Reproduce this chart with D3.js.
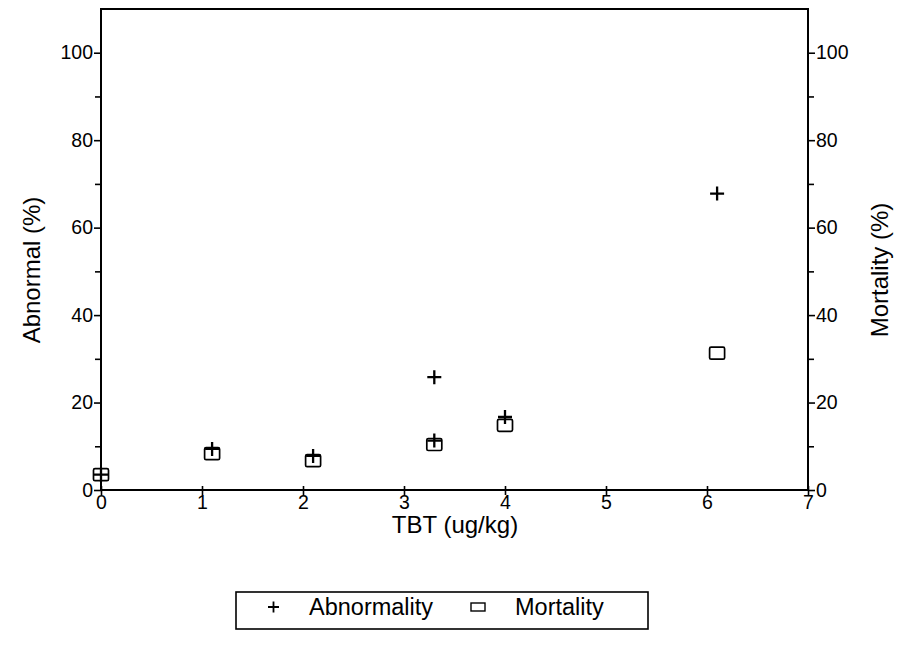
<!DOCTYPE html>
<html><head><meta charset="utf-8">
<script src="https://cdn.jsdelivr.net/npm/d3@7"></script>
<style>body{margin:0;background:#fff}svg{display:block}text{font-family:"Liberation Sans",Arial,sans-serif;fill:#000}</style>
</head><body><svg id="c" width="898" height="665"></svg>
<script>
const abnX = [0, 1.1, 2.1, 3.3, 3.3, 4.0, 6.1];
const abnY = [3.5, 9.4, 7.8, 25.8, 11.3, 16.7, 67.8];
const morX = [0, 1.1, 2.1, 3.3, 4.0, 6.1];
const morY = [3.5, 8.3, 6.7, 10.4, 14.8, 31.3];
const xTicks = [0,1,2,3,4,5,6,7];
const yMajor = [0,20,40,60,80,100];
const yMinor = [10,30,50,70,90];
const legendLabels = ["Abnormality","Mortality"];

const svg = d3.select("#c");
const x = d3.scaleLinear().domain([0,7]).range([101,808]);
const y = d3.scaleLinear().domain([0,110]).range([490,9]);

const g = svg.append("g");
g.append("rect").attr("x",x(0)).attr("y",y(110)).attr("width",x(7)-x(0)).attr("height",y(0)-y(110))
 .attr("fill","none").attr("stroke","#000").attr("stroke-width",2);

function styleAxis(sel){
  sel.select(".domain").remove();
  sel.selectAll("line").attr("stroke","#000").attr("stroke-width",1.6);
  sel.selectAll("text").style("font-size","19.5px");
}
g.append("g").attr("transform",`translate(${x(0)},0)`)
 .call(d3.axisLeft(y).tickValues(yMajor).tickSize(7).tickPadding(1).tickFormat(d3.format("d"))).call(styleAxis);
g.append("g").attr("transform",`translate(${x(0)},0)`)
 .call(d3.axisLeft(y).tickValues(yMinor).tickSize(6).tickFormat("")).call(styleAxis);
g.append("g").attr("transform",`translate(${x(7)},0)`)
 .call(d3.axisRight(y).tickValues(yMajor).tickSize(7).tickPadding(1).tickFormat(d3.format("d"))).call(styleAxis);
g.append("g").attr("transform",`translate(${x(7)},0)`)
 .call(d3.axisRight(y).tickValues(yMinor).tickSize(6).tickFormat("")).call(styleAxis);
const xa = g.append("g").attr("transform",`translate(0,${y(0)})`)
 .call(d3.axisBottom(x).tickValues(xTicks).tickSize(5).tickPadding(0).tickFormat(d3.format("d"))).call(styleAxis);
xa.selectAll(".tick line").attr("y1",-4);

svg.append("text").attr("x",455).attr("y",533).attr("text-anchor","middle").style("font-size","24px").text("TBT (ug/kg)");
svg.append("text").attr("transform","translate(40,270) rotate(-90)").attr("text-anchor","middle").style("font-size","24px").text("Abnormal (%)");
svg.append("text").attr("transform","translate(888,270) rotate(-90)").attr("text-anchor","middle").style("font-size","24px").text("Mortality (%)");

const mor = morX.map((v,i)=>({x:v,y:morY[i]}));
const abn = abnX.map((v,i)=>({x:v,y:abnY[i]}));
g.selectAll(".sq").data(mor).join("rect").attr("class","sq")
 .attr("x",d=>x(d.x)-7.5).attr("y",d=>y(d.y)-6).attr("width",15).attr("height",12).attr("rx",1.5)
 .attr("fill","none").attr("stroke","#000").attr("stroke-width",1.7);
g.selectAll(".pl").data(abn).join("path").attr("class","pl")
 .attr("d",d=>`M${x(d.x)-7},${y(d.y)}h14M${x(d.x)},${y(d.y)-7}v14`)
 .attr("stroke","#000").attr("stroke-width",2.3).attr("fill","none");

const lg = svg.append("g");
lg.append("rect").attr("x",236).attr("y",592).attr("width",412).attr("height",37).attr("fill","none").attr("stroke","#000").attr("stroke-width",1.6);
lg.append("path").attr("d","M268,607h11M273.5,601.5v11").attr("stroke","#000").attr("stroke-width",1.8);
lg.append("text").attr("x",309).attr("y",615).style("font-size","23.5px").text(legendLabels[0]);
lg.append("rect").attr("x",471).attr("y",603).attr("width",14).attr("height",8).attr("fill","none").attr("stroke","#000").attr("stroke-width",1.4);
lg.append("text").attr("x",515).attr("y",615).style("font-size","23.5px").text(legendLabels[1]);
</script></body></html>
